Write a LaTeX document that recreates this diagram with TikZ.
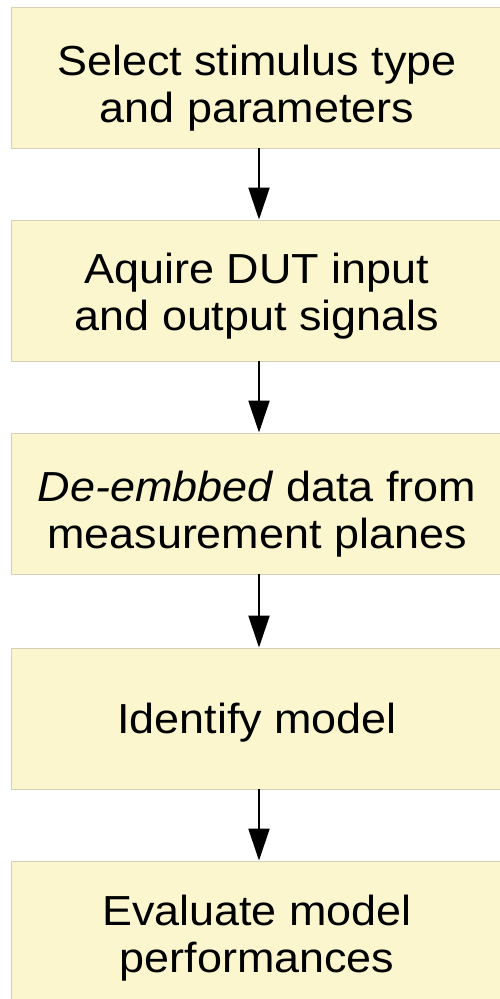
\documentclass[tikz,border=0pt]{standalone}
\usepackage{fontspec}
\setmainfont{Liberation Sans}
\newfontfamily\boxfont[FakeStretch=1.07]{Liberation Sans}
\usetikzlibrary{arrows.meta}
\definecolor{boxfill}{RGB}{251,246,206}
\definecolor{boxline}{RGB}{214,209,182}
\tikzset{
  stepbox/.style={draw=boxline, line width=0.9pt, fill=boxfill, rectangle,
    minimum width=492pt, minimum height=141pt, inner sep=0pt},
  steptext/.style={align=center, inner sep=0pt, font=\boxfont\fontsize{42}{47}\selectfont},
  flow/.style={line width=2.2pt, -{Triangle[width=21pt,length=32pt]}}
}
\begin{document}
\begin{tikzpicture}[x=1pt,y=-1pt]
\useasboundingbox (0,0) rectangle (500,999);
\fill[white] (0,0) rectangle (500,999);
\node[stepbox] (s1) at (257,77.5) {};
\node[stepbox] (s2) at (257,290.5) {};
\node[stepbox] (s3) at (257,503.5) {};
\node[stepbox] (s4) at (257,718.5) {};
\node[stepbox] (s5) at (257,931.5) {};
\node[steptext] (t1) at ([yshift=-11pt]s1.center) {Select stimulus type\\and parameters};
\node[steptext] (t2) at ([yshift=-6pt]s2.center) {Aquire DUT input\\and output signals};
\node[steptext] (t3) at ([yshift=-11pt]s3.center) {\textit{De-embbed} data from\\measurement planes};
\node[steptext] (t4) at ([yshift=-4pt]s4.center) {Identify model};
\node[steptext] (t5) at ([yshift=-7pt]s5.center) {Evaluate model\\performances};
\draw[flow] (s1.south -| 259,0) -- (s2.north -| 259,0);
\draw[flow] (s2.south -| 259,0) -- (s3.north -| 259,0);
\draw[flow] (s3.south -| 259,0) -- (s4.north -| 259,0);
\draw[flow] (s4.south -| 259,0) -- (s5.north -| 259,0);
\end{tikzpicture}
\end{document}
